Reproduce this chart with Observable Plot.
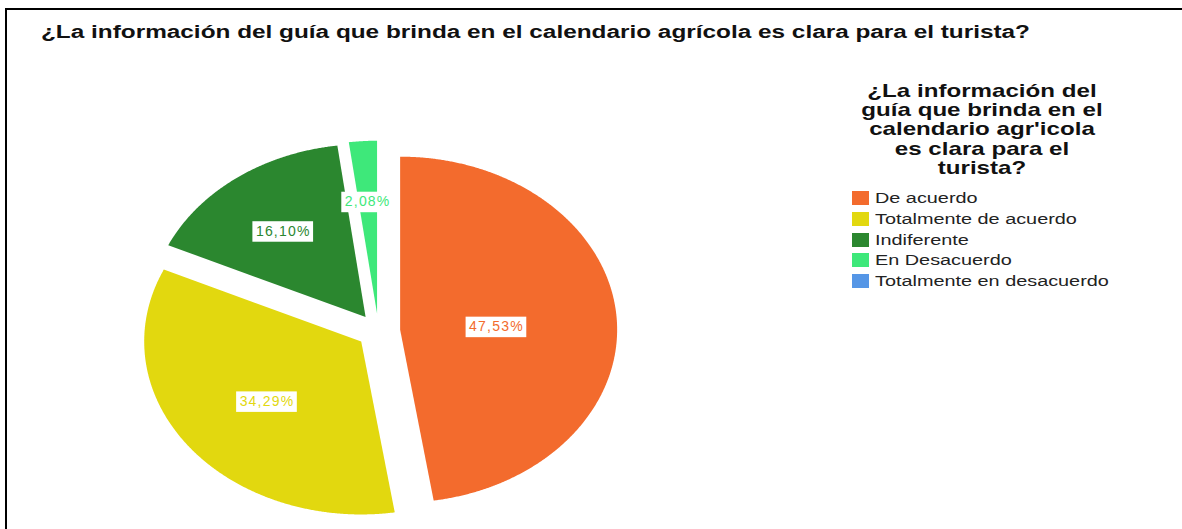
<!DOCTYPE html>
<html>
<head>
<meta charset="utf-8">
<script src="https://cdn.jsdelivr.net/npm/d3@7"></script>
<script src="https://cdn.jsdelivr.net/npm/@observablehq/plot@0.6"></script>
<style>
  html, body { margin: 0; padding: 0; background: #fff; }
  #wrap { position: relative; width: 1182px; height: 529px; overflow: hidden; background: #fff; font-family: "Liberation Sans", Arial, sans-serif; }
  #frame { position: absolute; left: 5px; top: 8px; width: 1300px; height: 600px; border-top: 2px solid #000; border-left: 2px solid #000; box-sizing: border-box; }
  #chart { position: absolute; left: 0; top: 0; }
  #title { position: absolute; left: 41px; top: 22px; font-size: 18px; line-height: 20px; font-weight: bold; color: #111; white-space: nowrap; transform-origin: left center; }
  #ltitle { position: absolute; left: 982px; top: 81px; width: 0; }
  #ltitle div { position: absolute; left: 0; white-space: nowrap; font-size: 19px; line-height: 19px; font-weight: bold; color: #111; }
  #legend { position: absolute; left: 852px; top: 188px; }
  .row { height: 20.7px; display: flex; align-items: center; white-space: nowrap; }
  .sw { width: 17px; height: 14px; margin-right: 6px; flex: none; }
  .lt { font-size: 15.5px; color: #222; display: inline-block; transform: scaleX(1.28); transform-origin: left center; }
  #chart text { letter-spacing: 1.2px; }
</style>
</head>
<body>
<div id="wrap">
  <div id="chart"></div>
  <div id="frame"></div>
  <div id="title"></div>
  <div id="ltitle"></div>
  <div id="legend"></div>
</div>
<script>
// ---- data ----
const titleText = "¿La información del guía que brinda en el calendario agrícola es clara para el turista?";
const legendTitleLines = ["¿La información del", "guía que brinda en el", "calendario agr'icola", "es clara para el", "turista?"];
const categories = ["De acuerdo", "Totalmente de acuerdo", "Indiferente", "En Desacuerdo", "Totalmente en desacuerdo"];
const percentages = [47.53, 34.29, 16.10, 2.08, 0];
const colors = ["#F36B2D", "#E2D80F", "#2B872F", "#3EE87A", "#5596E6"];

// ---- layout ----
const W = 1182, H = 529;
const cx = 378, cy = 330.5, rx = 217, ry = 173;
const explode = 0.1;

const fmt = v => v.toFixed(2).replace(".", ",") + "%";

const pie = d3.pie().sort(null).value(d => d.value).startAngle(0).endAngle(2 * Math.PI);
const arcs = pie(categories.map((c, i) => ({cat: c, value: percentages[i]})));

const pts = [];
const labels = [];
for (const a of arcs) {
  if (a.value <= 0) continue;
  const cat = a.data.cat;
  const mid = (a.startAngle + a.endAngle) / 2;
  const ox = explode * Math.sin(mid), oy = explode * Math.cos(mid);
  pts.push({cat, x: ox, y: oy});
  const n = Math.max(4, Math.ceil((a.endAngle - a.startAngle) / 0.005));
  for (let k = 0; k <= n; k++) {
    const ang = a.startAngle + (a.endAngle - a.startAngle) * k / n;
    pts.push({cat, x: ox + Math.sin(ang), y: oy + Math.cos(ang)});
  }
  pts.push({cat, x: ox, y: oy});
  const half = (a.endAngle - a.startAngle) / 2;
  const rc = (2 / 3) * Math.sin(half) / half;
  labels.push({cat, label: fmt(a.value), x: ox + rc * Math.sin(mid), y: oy + rc * Math.cos(mid)});
}

const plot = Plot.plot({
  width: W, height: H, margin: 0,
  x: {domain: [-cx / rx, (W - cx) / rx], axis: null},
  y: {domain: [-(H - cy) / ry, cy / ry], axis: null},
  color: {domain: categories, range: colors},
  style: {background: "none", fontFamily: "'Liberation Sans', Arial, sans-serif", overflow: "visible", maxWidth: "none"},
  marks: [
    Plot.line(pts, {x: "x", y: "y", z: "cat", fill: "cat", stroke: "none", curve: "linear"}),
    Plot.text(labels, {x: "x", y: "y", text: "label", fill: "cat", fontSize: 14, dy: 3})
  ]
});
document.getElementById("chart").appendChild(plot);

// white boxes behind the value labels
plot.querySelectorAll('g[aria-label="text"] text').forEach(t => {
  const b = t.getBBox();
  const r = document.createElementNS("http://www.w3.org/2000/svg", "rect");
  r.setAttribute("x", b.x - 3.5);
  r.setAttribute("y", b.y - 1.5);
  r.setAttribute("width", b.width + 6);
  r.setAttribute("height", b.height + 4.5);
  r.setAttribute("fill", "#fff");
  const tr = t.getAttribute("transform");
  if (tr) r.setAttribute("transform", tr);
  t.parentNode.insertBefore(r, t);
});

// title (fit to the reference width)
const titleEl = document.getElementById("title");
titleEl.textContent = titleText;
const tw = titleEl.getBoundingClientRect().width;
titleEl.style.transform = `scaleX(${989 / tw})`;

// legend title
const lt = document.getElementById("ltitle");
legendTitleLines.forEach((s, i) => {
  const d = document.createElement("div");
  d.textContent = s;
  d.style.top = (i * 19.2) + "px";
  lt.appendChild(d);
  const w = d.getBoundingClientRect().width;
  d.style.transform = `translateX(${-w / 2}px) scaleX(1.27)`;
  d.style.transformOrigin = "center center";
});

// legend items
const lg = document.getElementById("legend");
categories.forEach((c, i) => {
  const row = document.createElement("div");
  row.className = "row";
  const sw = document.createElement("div");
  sw.className = "sw";
  sw.style.background = colors[i];
  const tx = document.createElement("span");
  tx.className = "lt";
  tx.textContent = c;
  row.appendChild(sw);
  row.appendChild(tx);
  lg.appendChild(row);
});
</script>
</body>
</html>
